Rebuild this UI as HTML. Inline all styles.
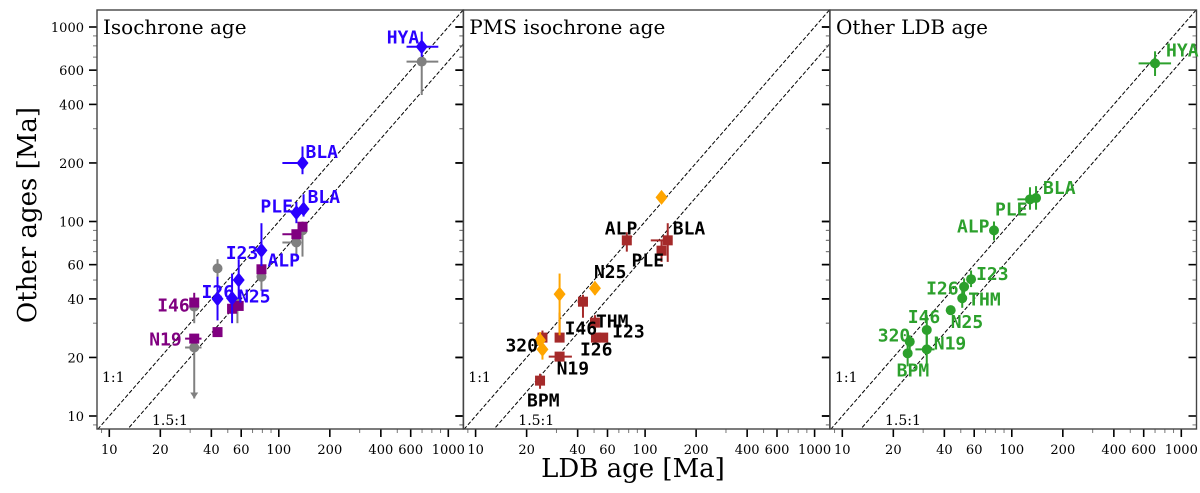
<!DOCTYPE html>
<html><head><meta charset="utf-8"><style>
body{margin:0;background:#fff;width:1200px;height:488px;overflow:hidden}
svg text{font-family:"DejaVu Serif","Liberation Serif",serif}
.lab{font-family:"DejaVu Sans Mono","Liberation Mono",monospace;font-weight:bold;font-size:18px}
</style></head><body>
<svg id="chart" width="1200" height="488" viewBox="0 0 1200 488" xmlns="http://www.w3.org/2000/svg"></svg>
<script>
// ---- data ----
const tickVals = [10,20,40,60,100,200,400,600,1000];
const panelTitles = ["Isochrone age","PMS isochrone age","Other LDB age"];
// panel 1 - isochrone (blue diamonds)
const isoNames = ["HYA","BLA","BLA","PLE","ALP","I23","N25","I26"];
const isoX = [697,138,140,127,79,58,53,43.5];
const isoY = [792,200,116,111,71,50,40.3,40];
const isoYlo = [703,175,106,98,59,40,30,31];
const isoYhi = [946,243,138,126,98,64,54,52];
const isoXlo = [567,105,140,120,79,58,53,43.5];
const isoXhi = [873,146,140,130,79,58,53,43.5];
// panel 1 - purple squares
const purX = [138,127,79,58,53,43.5,31.7,31.7];
const purY = [94,86,56.8,36.8,35.6,27,38.3,25];
const purXlo = [138,105,79,58,50,43.5,31.7,28];
const purXhi = [138,127,79,58,53,43.5,31.7,35];
// panel 1 - gray circles
const grayX = [697,138,127,79,57,43.5,31.7,31.7];
const grayY = [664,90,78,52,38,57.4,36.5,22.5];
const grayYlo = [447,66,66,44,30,48,30,12.3];
const grayYhi = [664,100,84,58,40,64,40,22.5];
const grayXlo = [567,138,105,79,57,43.5,31.7,28];
const grayXhi = [873,138,127,79,57,43.5,31.7,35];
// panel 2 - red squares
const pmsX = [78,136,125,43,50.6,56.6,51.3,31.3,31.3,24.8,24];
const pmsY = [80,80,70.8,38.7,30.2,25.3,25.3,25.3,20.2,25.3,15.2];
const pmsYlo = [70,62,62,32,27,25.3,25.3,25.3,18,25.3,13.8];
const pmsYhi = [88,98,80,42,33,25.3,25.3,34,20.2,27.5,16.5];
const pmsXlo = [78,108,120,40,50.6,53,49,31.3,27,24.8,24];
const pmsXhi = [78,136,130,46,50.6,60,54,31.3,37,24.8,24];
// panel 2 - orange diamonds
const orX = [125,50.6,31.3,24,24.8];
const orY = [133,45.4,42.3,24.5,22];
const orYlo = [133,42,26,22,19.5];
const orYhi = [133,49,54,27,24.5];
const pmsLabels = [["ALP",78,80,-22,-6],["BLA",136,80,5,-6],["PLE",125,70.8,-30,16],["N25",50.6,45.4,-1,-10],
 ["THM",50.6,30.2,1,5],["I46",31.3,25.3,5,-3],["I23",56.6,25.3,9,0],["I26",51.3,25.3,-16,18],["N19",31.3,20.2,-3,18],
 ["320",24.8,25.3,-37,14],["BPM",24,15.2,-13,26]];
// panel 3 - green circles
const ldbNames = ["HYA","BLA","PLE","ALP","I23","I26","THM","N25","I46","N19","320","BPM"];
const ldbX = [700,139,128,78.5,57.5,52.3,51,43.6,31.5,31.5,25,24.3];
const ldbY = [650,132,130,90,50.5,46.2,40.3,35,27.7,22,24.1,21];
const ldbYlo = [560,115,115,80,46,42,36,35,22,18,22,18];
const ldbYhi = [750,152,150,100,56,51,45,35,33,27,26,24];
const ldbXlo = [560,139,108,78.5,57.5,52.3,51,41,31.5,27,25,24.3];
const ldbXhi = [870,139,128,78.5,57.5,52.3,51,43.6,31.5,35,25,24.3];
const ldbLabOff = [[11,-7],[7,-4],[-35,16],[-37,2],[5,1],[-38,8],[6,7],[0,18],[-19,-7],[7,0],[-32,0],[-11,23]];

// ---- axes ----
const PL=[97,463.3,830], PW=366.5, TOP=10, BOT=429;
const XOFF=12.3, DEC_X=169.5, Y10=416, DEC_Y=194.5;
function xs(p,v){return PL[p]+XOFF+(Math.log10(v)-1)*DEC_X;}
function ys(v){return Y10-(Math.log10(v)-1)*DEC_Y;}
const svg=document.getElementById('chart');
const NS='http://www.w3.org/2000/svg';
function mk(tag,attrs,parent){const e=document.createElementNS(NS,tag);for(const k in attrs)e.setAttribute(k,attrs[k]);(parent||svg).appendChild(e);return e;}

for(let p=0;p<3;p++){
  const g=mk('g',{});
  
  
  const L=PL[p],R=L+PW;
  const clip=mk('clipPath',{id:'c'+p},g);mk('rect',{x:L,y:TOP,width:PW,height:BOT-TOP},clip);
  const lg=mk('g',{'clip-path':'url(#c'+p+')'},g);
  const l1=mk('line',{x1:xs(p,5),y1:ys(5),x2:xs(p,3000),y2:ys(3000),stroke:'#000','stroke-width':1,'stroke-dasharray':'4,2'},lg);
  
  const l2=mk('line',{x1:xs(p,5),y1:ys(5/1.5),x2:xs(p,3000),y2:ys(3000/1.5),stroke:'#000','stroke-width':1,'stroke-dasharray':'4,2'},lg);
  
  for(let d=0;d<=3;d++)for(let m=1;m<10;m++){
    const v=m*Math.pow(10,d);if(v>1200)continue;
    const maj=tickVals.includes(v);
    const x=xs(p,v); if(x>L&&x<R) mk('line',{x1:x,y1:BOT,x2:x,y2:BOT+(maj?8:4),stroke:maj?'#000':'#777','stroke-width':maj?1.6:1},g);
    const y=ys(v); if(y>TOP&&y<BOT){
      mk('line',{x1:L,y1:y,x2:L-(maj?8:4),y2:y,stroke:maj?'#000':'#777','stroke-width':maj?1.6:1},g);
      mk('line',{x1:R,y1:y,x2:R-(maj?8:4),y2:y,stroke:maj?'#000':'#777','stroke-width':maj?1.6:1},g);
    }
  }
  for(const v of tickVals){
    const t=mk('text',{x:xs(p,v),y:454,'font-size':13,'text-anchor':'middle'},g);t.textContent=v;
    
  }
  mk('rect',{x:L,y:TOP,width:PW,height:BOT-TOP,fill:'none',stroke:'#444','stroke-width':1.4},g);
  const tt=mk('text',{x:L+6,y:34,'font-size':20},g);tt.textContent=panelTitles[p];
  
  const a=mk('text',{x:L+5,y:382,'font-size':14},g);a.textContent='1:1';
  const b=mk('text',{x:L+55,y:425,'font-size':14},g);b.textContent='1.5:1';
}
for(const v of tickVals){
  const t=mk('text',{x:84,y:ys(v)+5,'font-size':13,'text-anchor':'end'});t.textContent=v;
  
}
const yl=mk('text',{x:0,y:0,'font-size':26,'text-anchor':'middle',transform:'translate(36,215) rotate(-90)'});yl.textContent='Other ages [Ma]';

const xl=mk('text',{x:633,y:477,'font-size':26,'text-anchor':'middle'});xl.textContent='LDB age [Ma]';


function err(p,x,y,xlo,xhi,ylo,yhi,col){
  if(xlo!==xhi) mk('line',{x1:xs(p,xlo),y1:ys(y),x2:xs(p,xhi),y2:ys(y),stroke:col,'stroke-width':2});
  if(ylo!==yhi) mk('line',{x1:xs(p,x),y1:ys(ylo),x2:xs(p,x),y2:ys(yhi),stroke:col,'stroke-width':2});
}
function marker(p,x,y,shape,col,name){
  const cx=xs(p,x),cy=ys(y);let e;
  if(shape==='d') e=mk('polygon',{points:`${cx},${cy-7.5} ${cx+6},${cy} ${cx},${cy+7.5} ${cx-6},${cy}`,fill:col});
  else if(shape==='s') e=mk('rect',{x:cx-5,y:cy-5,width:10,height:10,fill:col});
  else e=mk('circle',{cx:cx,cy:cy,r:5,fill:col});
  
  
}
function label(p,x,y,dx,dy,txt,col){
  const t=mk('text',{x:xs(p,x)+dx,y:ys(y)+dy,fill:col,class:'lab'});t.textContent=txt;
  
}
// panel 1
const GR='#808080',PU='#800080',BL='#2a00ff';
grayX.forEach((x,i)=>{err(0,x,grayY[i],grayXlo[i],grayXhi[i],grayYlo[i],grayYhi[i],GR);marker(0,x,grayY[i],'c',GR,'gray-point');});
mk('polygon',{points:`${xs(0,31.7)-4},${ys(12.3)-6} ${xs(0,31.7)+4},${ys(12.3)-6} ${xs(0,31.7)},${ys(12.3)}`,fill:GR});
purX.forEach((x,i)=>{err(0,x,purY[i],purXlo[i],purXhi[i],purY[i],purY[i],PU);marker(0,x,purY[i],'s',PU,'purple-point');});
mk('line',{x1:xs(0,31.7),y1:ys(38.3),x2:xs(0,31.7),y2:ys(43),stroke:PU,'stroke-width':2});
isoX.forEach((x,i)=>{err(0,x,isoY[i],isoXlo[i],isoXhi[i],isoYlo[i],isoYhi[i],BL);marker(0,x,isoY[i],'d',BL,'isochrone-point');});
const isoOff=[[-35,-3],[3,-5],[4,-6],[-36,0],[6,16],[-13,-21],[6,4],[-16,-1]];
isoNames.forEach((n,i)=>label(0,isoX[i],isoY[i],isoOff[i][0],isoOff[i][1],n,BL));
label(0,31.7,38.3,-37,9,'I46',PU);label(0,31.7,25,-45,7,'N19',PU);
// panel 2
const RD='#a52a2a',OR='#ffa500';
pmsX.forEach((x,i)=>{err(1,x,pmsY[i],pmsXlo[i],pmsXhi[i],pmsYlo[i],pmsYhi[i],RD);marker(1,x,pmsY[i],'s',RD,'pms-point');});
orX.forEach((x,i)=>{err(1,x,orY[i],x,x,orYlo[i],orYhi[i],OR);marker(1,x,orY[i],'d',OR,'other-pms-point');});
pmsLabels.forEach(l=>label(1,l[1],l[2],l[3],l[4],l[0],'#000'));
// panel 3
const GN='#2ca02c';
ldbX.forEach((x,i)=>{err(2,x,ldbY[i],ldbXlo[i],ldbXhi[i],ldbYlo[i],ldbYhi[i],GN);marker(2,x,ldbY[i],'c',GN,'ldb-point');});
ldbNames.forEach((n,i)=>label(2,ldbX[i],ldbY[i],ldbLabOff[i][0],ldbLabOff[i][1],n,GN));
</script>
</body></html>
